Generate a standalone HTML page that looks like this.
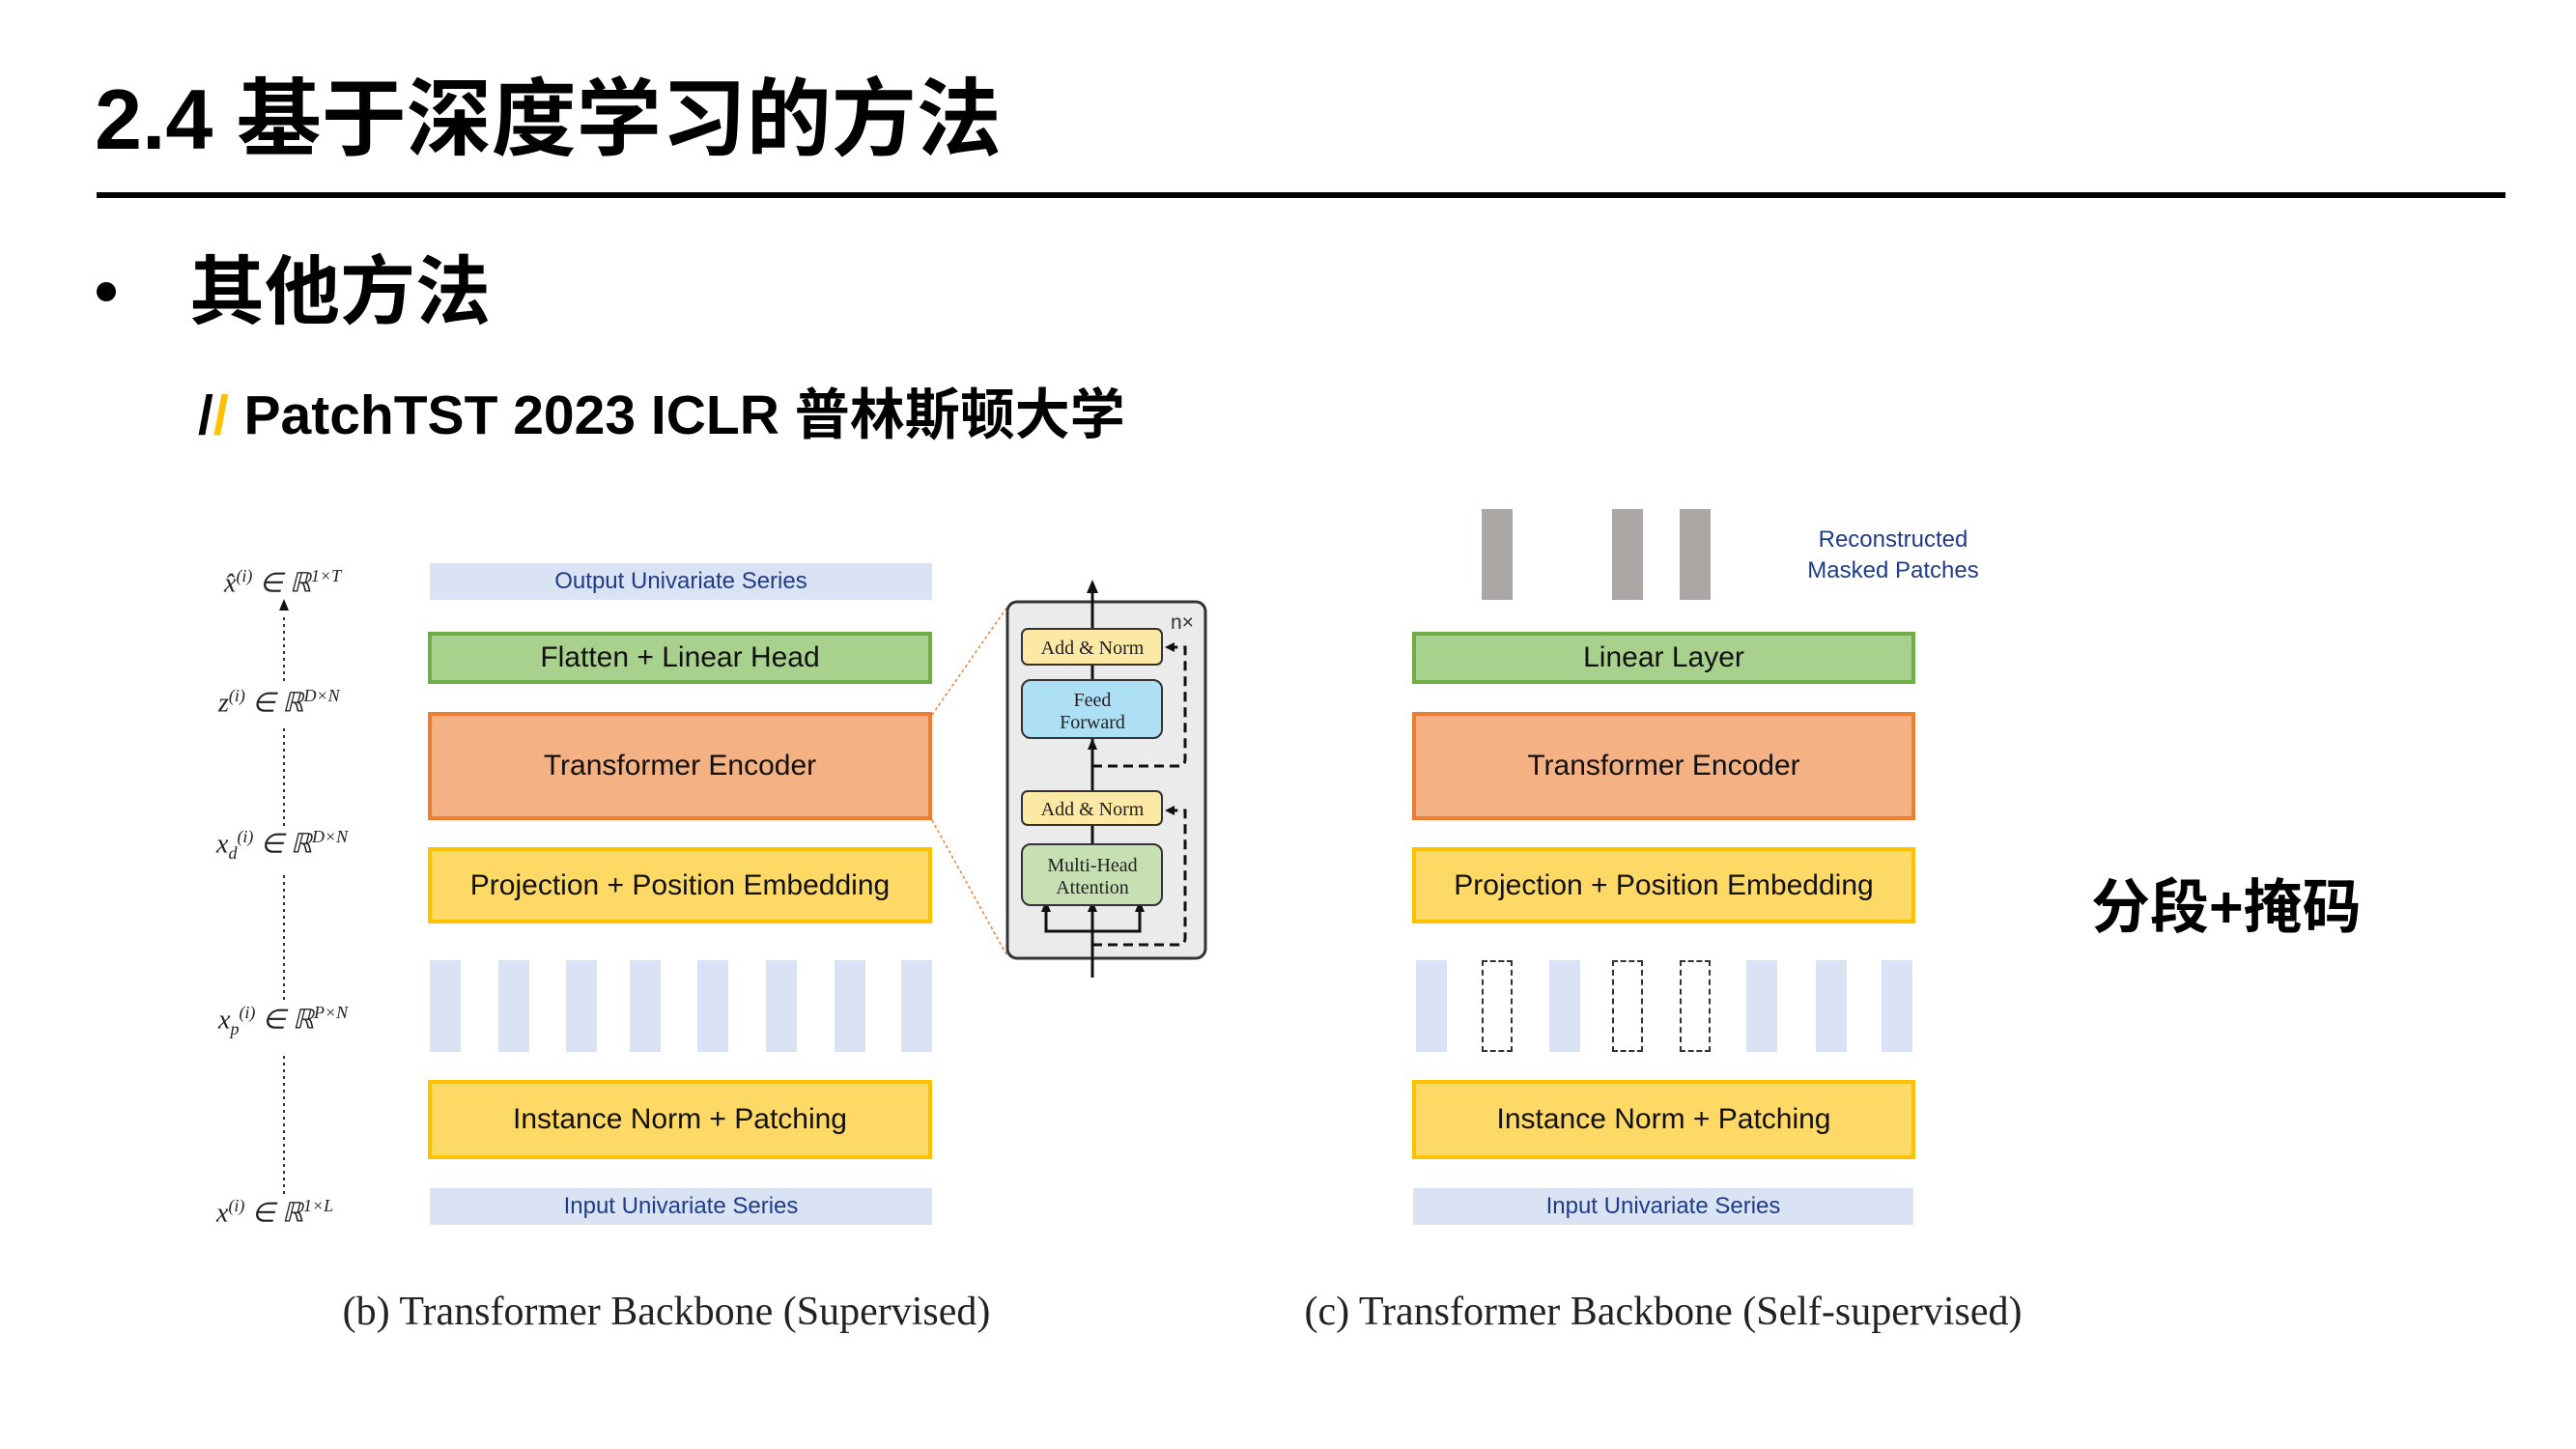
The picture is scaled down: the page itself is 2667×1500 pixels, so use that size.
<!DOCTYPE html>
<html><head><meta charset="utf-8">
<style>
body{margin:0;width:2667px;height:1500px;background:#fff;position:relative;overflow:hidden;font-family:"Liberation Sans","Noto Sans CJK SC",sans-serif;}
.a{position:absolute;box-sizing:border-box;}
.box{position:absolute;box-sizing:border-box;display:flex;align-items:center;justify-content:center;font-family:"Liberation Sans",sans-serif;color:#111;font-size:30px;}
.g{background:#a9d18e;border:4px solid #70ad47;}
.o{background:#f4b183;border:4px solid #ed7d31;}
.y{background:#ffd966;border:4px solid #ffc000;}
.bl{background:#dae3f3;color:#1f3c88;font-size:24px;}
.p{position:absolute;background:#dae3f3;width:32px;top:994px;height:95px;}
.d{position:absolute;border:2px dashed #333;width:32px;top:994px;height:95px;box-sizing:border-box;}
.gr{position:absolute;background:#aaa7a5;width:32px;top:527px;height:94px;}
.m{position:absolute;font-family:"Liberation Serif",serif;font-style:italic;font-size:28px;color:#222;white-space:nowrap;}
.m sup,.m sub{font-size:18px;}
</style></head><body>
<div class="a" style="left:98px;top:64px;font-size:88px;font-weight:700;line-height:120px;white-space:nowrap;">2.4 基于深度学习的方法</div>
<div class="a" style="left:100px;top:199px;width:2494px;height:6px;background:#000;"></div>
<div class="a" style="left:100px;top:292px;width:20px;height:20px;border-radius:50%;background:#000;"></div>
<div class="a" style="left:196px;top:252px;font-size:78px;font-weight:700;line-height:100px;white-space:nowrap;">其他方法</div>
<div class="a" style="left:205px;top:394px;font-size:57px;font-weight:700;line-height:72px;white-space:nowrap;"><span>/</span><span style="color:#ffc000">/</span> PatchTST 2023 ICLR 普林斯顿大学</div>

<!-- Left diagram -->
<div class="box bl" style="left:445px;top:583px;width:520px;height:38px;">Output Univariate Series</div>
<div class="box g" style="left:443px;top:654px;width:522px;height:54px;">Flatten + Linear Head</div>
<div class="box o" style="left:443px;top:737px;width:522px;height:112px;">Transformer Encoder</div>
<div class="box y" style="left:443px;top:877px;width:522px;height:79px;">Projection + Position Embedding</div>
<div class="p" style="left:445px"></div><div class="p" style="left:516px"></div><div class="p" style="left:586px"></div><div class="p" style="left:652px"></div><div class="p" style="left:722px"></div><div class="p" style="left:793px"></div><div class="p" style="left:864px"></div><div class="p" style="left:933px"></div>
<div class="box y" style="left:443px;top:1118px;width:522px;height:82px;">Instance Norm + Patching</div>
<div class="box bl" style="left:445px;top:1230px;width:520px;height:38px;">Input Univariate Series</div>

<div class="m" style="left:232px;top:586px;">x̂<sup>(i)</sup> ∈ ℝ<sup>1×T</sup></div>
<div class="m" style="left:226px;top:710px;">z<sup>(i)</sup> ∈ ℝ<sup>D×N</sup></div>
<div class="m" style="left:224px;top:856px;">x<sub>d</sub><sup>(i)</sup> ∈ ℝ<sup>D×N</sup></div>
<div class="m" style="left:226px;top:1038px;">x<sub>p</sub><sup>(i)</sup> ∈ ℝ<sup>P×N</sup></div>
<div class="m" style="left:224px;top:1238px;">x<sup>(i)</sup> ∈ ℝ<sup>1×L</sup></div>

<svg class="a" style="left:0;top:0" width="2667" height="1500">
<g stroke="#333" stroke-width="2" stroke-dasharray="3,4" fill="none">
<line x1="294" y1="1236" x2="294" y2="1090"/><line x1="294" y1="1035" x2="294" y2="905"/><line x1="294" y1="855" x2="294" y2="752"/><line x1="294" y1="705" x2="294" y2="635"/>
</g>
<path d="M294,620 l-5,12 l10,0 z" fill="#111"/>
<g stroke="#ed7d31" stroke-width="1.5" stroke-dasharray="3,3"><line x1="965" y1="740" x2="1043" y2="628"/><line x1="965" y1="849" x2="1043" y2="990"/></g>
<rect x="1043" y="623" width="205" height="369" rx="10" fill="#ebebeb" stroke="#333" stroke-width="3"/>
<text x="1212" y="651" font-family="Liberation Sans" font-size="21" fill="#333">n×</text>
<g stroke="#111" stroke-width="3" fill="none">
<line x1="1131" y1="1012" x2="1131" y2="610"/>
<polyline points="1083,937 1083,964 1180,964 1180,937"/>
</g>
<path d="M1131,600 l-6,14 l12,0 z M1131,764 l-5,12 l10,0 z M1083,932 l-5,12 l10,0 z M1131,932 l-5,12 l10,0 z M1180,932 l-5,12 l10,0 z" fill="#111"/>
<g stroke="#111" stroke-width="3" stroke-dasharray="10,6" fill="none">
<path d="M1131,793 H1220 q7,0 7,-7 V670 H1212"/>
<path d="M1131,978 H1220 q7,0 7,-7 V839 H1212"/>
</g>
<path d="M1206,670 l10,-5 l0,10 z M1206,839 l10,-5 l0,10 z" fill="#111"/>
<rect x="1058" y="651" width="145" height="37" rx="6" fill="#fde9a6" stroke="#333" stroke-width="2"/>
<rect x="1058" y="704" width="145" height="60" rx="9" fill="#addff5" stroke="#333" stroke-width="2"/>
<rect x="1058" y="819" width="145" height="35" rx="6" fill="#fde9a6" stroke="#333" stroke-width="2"/>
<rect x="1058" y="874" width="145" height="63" rx="9" fill="#c6e0b4" stroke="#333" stroke-width="2"/>
<g font-family="Liberation Serif" font-size="20" fill="#222" text-anchor="middle">
<text x="1131" y="677">Add &amp; Norm</text>
<text x="1131" y="731">Feed</text><text x="1131" y="754">Forward</text>
<text x="1131" y="844">Add &amp; Norm</text>
<text x="1131" y="902">Multi-Head</text><text x="1131" y="925">Attention</text>
</g>
</svg>

<!-- Right diagram -->
<div class="gr" style="left:1534px"></div><div class="gr" style="left:1669px"></div><div class="gr" style="left:1739px"></div>
<div class="a" style="left:1830px;top:543px;width:260px;text-align:center;font-size:24px;line-height:32px;color:#1f3c88;">Reconstructed<br>Masked Patches</div>
<div class="box g" style="left:1462px;top:654px;width:521px;height:54px;">Linear Layer</div>
<div class="box o" style="left:1462px;top:737px;width:521px;height:112px;">Transformer Encoder</div>
<div class="box y" style="left:1462px;top:877px;width:521px;height:79px;">Projection + Position Embedding</div>
<div class="p" style="left:1466px"></div><div class="d" style="left:1534px"></div><div class="p" style="left:1604px"></div><div class="d" style="left:1669px"></div><div class="d" style="left:1739px"></div><div class="p" style="left:1808px"></div><div class="p" style="left:1880px"></div><div class="p" style="left:1948px"></div>
<div class="box y" style="left:1462px;top:1118px;width:521px;height:82px;">Instance Norm + Patching</div>
<div class="box bl" style="left:1463px;top:1230px;width:518px;height:38px;">Input Univariate Series</div>

<div class="a" style="left:2165px;top:896px;font-size:61px;font-weight:700;line-height:86px;white-space:nowrap;">分段+掩码</div>

<div class="a" style="left:280px;top:1334px;width:820px;text-align:center;font-family:'Liberation Serif',serif;font-size:42px;line-height:48px;color:#222;">(b) Transformer Backbone (Supervised)</div>
<div class="a" style="left:1322px;top:1334px;width:800px;text-align:center;font-family:'Liberation Serif',serif;font-size:42px;line-height:48px;color:#222;">(c) Transformer Backbone (Self-supervised)</div>
</body></html>
